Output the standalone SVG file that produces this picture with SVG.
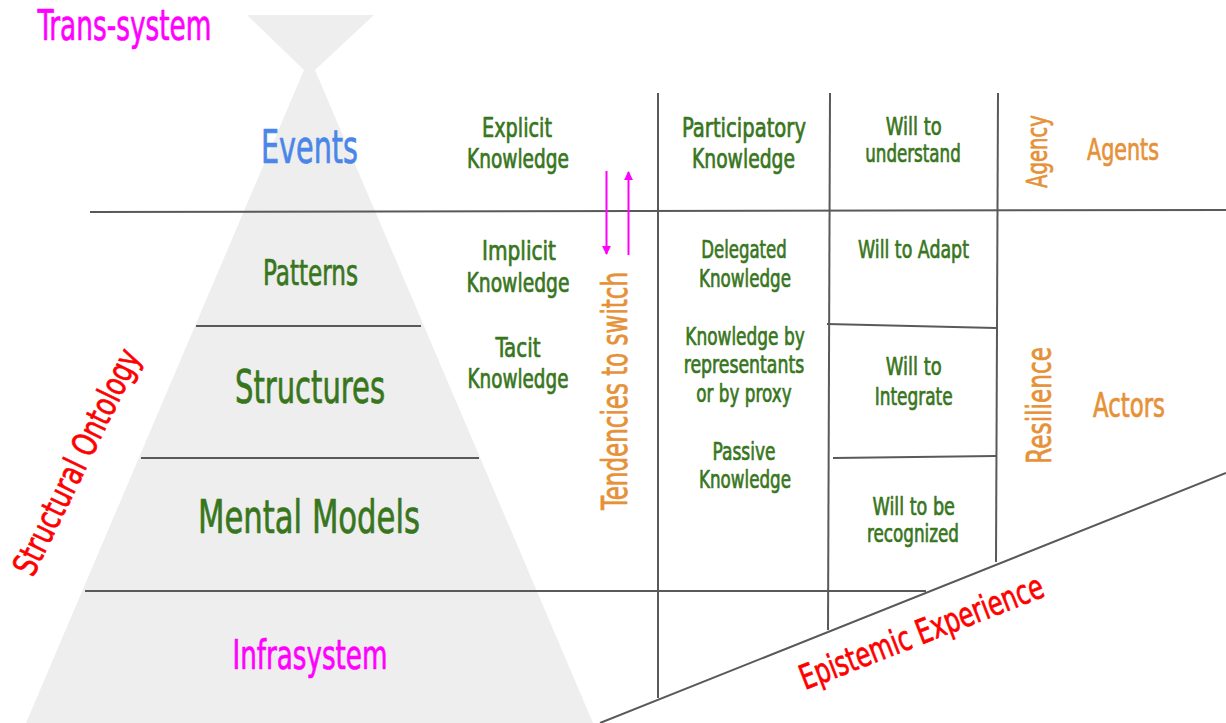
<svg xmlns="http://www.w3.org/2000/svg" width="1226" height="723" viewBox="0 0 1226 723">
<style>
text{font-family:"Liberation Sans Narrow","DejaVu Sans Condensed","Liberation Sans",sans-serif;stroke-width:0.7;stroke-linejoin:round;}
.g{fill:#38761d;stroke:#38761d;text-anchor:middle;}
.o{fill:#e69138;stroke:#e69138;}
.m{fill:#ff00ff;stroke:#ff00ff;}
.r{fill:#ff0000;stroke:#ff0000;}
.b{fill:#4a86e8;stroke:#4a86e8;}
.ln{stroke:#595959;stroke-width:2;fill:none;}
.ar{stroke:#ff00ff;stroke-width:2;fill:none;}
</style>
<defs>
<marker id="ah" viewBox="0 0 10 10" refX="9" refY="5" markerWidth="4.5" markerHeight="4.5" markerUnits="strokeWidth" orient="auto">
<path d="M0,0 L10,5 L0,10 z" fill="#ff00ff"/>
</marker>
</defs>
<rect width="1226" height="723" fill="#ffffff"/>
<g id="pyramid">
<polygon points="247,15 374,15 315,70 593,723 26,723 304,70" fill="#eeeeee"/>
</g>
<g id="connectors">
<line class="ln" x1="90" y1="212" x2="1226" y2="210"/>
<line class="ln" x1="196" y1="326" x2="421" y2="326"/>
<line class="ln" x1="141" y1="458" x2="479" y2="458"/>
<line class="ln" x1="85" y1="591" x2="926" y2="591"/>
<line class="ln" x1="658" y1="93" x2="658" y2="698"/>
<line class="ln" x1="830" y1="93" x2="828" y2="630"/>
<line class="ln" x1="998" y1="93" x2="996" y2="562"/>
<line class="ln" x1="827" y1="324" x2="996" y2="328"/>
<line class="ln" x1="833" y1="458" x2="996" y2="456"/>
<line class="ln" x1="600" y1="723" x2="1226" y2="473"/>
<line class="ar" x1="606.5" y1="171" x2="606.5" y2="254" marker-end="url(#ah)"/>
<line class="ar" x1="628.5" y1="255" x2="628.5" y2="172" marker-end="url(#ah)"/>
</g>
<g id="trans-system"><text class="m" x="37.5" y="40" font-size="42" textLength="174" lengthAdjust="spacingAndGlyphs">Trans-system</text></g>
<g id="events"><text class="b" x="309.5" y="163" font-size="46" text-anchor="middle" textLength="97" lengthAdjust="spacingAndGlyphs">Events</text></g>
<g id="patterns"><text class="g" x="310.5" y="285" font-size="35" textLength="95" lengthAdjust="spacingAndGlyphs">Patterns</text></g>
<g id="structures"><text class="g" x="310" y="402.5" font-size="46" textLength="150" lengthAdjust="spacingAndGlyphs">Structures</text></g>
<g id="mental-models"><text class="g" x="309" y="533" font-size="46" textLength="222" lengthAdjust="spacingAndGlyphs">Mental Models</text></g>
<g id="infrasystem"><text class="m" x="310" y="669" font-size="40" text-anchor="middle" textLength="155" lengthAdjust="spacingAndGlyphs">Infrasystem</text></g>
<g id="structural-ontology"><text class="r" transform="translate(33,578) rotate(-64)" x="0" y="0" font-size="34" textLength="247" lengthAdjust="spacingAndGlyphs">Structural Ontology</text></g>
<g id="explicit-knowledge">
<text class="g" x="517" y="137" font-size="27" textLength="70" lengthAdjust="spacingAndGlyphs">Explicit</text>
<text class="g" x="518" y="168" font-size="27" textLength="102" lengthAdjust="spacingAndGlyphs">Knowledge</text>
</g>
<g id="implicit-knowledge">
<text class="g" x="519" y="260" font-size="27" textLength="74" lengthAdjust="spacingAndGlyphs">Implicit</text>
<text class="g" x="518" y="292" font-size="27" textLength="103" lengthAdjust="spacingAndGlyphs">Knowledge</text>
</g>
<g id="tacit-knowledge">
<text class="g" x="518" y="357" font-size="27" textLength="45" lengthAdjust="spacingAndGlyphs">Tacit</text>
<text class="g" x="518" y="388" font-size="27" textLength="101" lengthAdjust="spacingAndGlyphs">Knowledge</text>
</g>
<g id="tendencies-to-switch"><text class="o" transform="translate(627,391) rotate(-90)" x="0" y="0" font-size="35" text-anchor="middle" textLength="238" lengthAdjust="spacingAndGlyphs">Tendencies to switch</text></g>
<g id="participatory-knowledge">
<text class="g" x="744" y="137" font-size="27" textLength="124" lengthAdjust="spacingAndGlyphs">Participatory</text>
<text class="g" x="743.5" y="168" font-size="27" textLength="103" lengthAdjust="spacingAndGlyphs">Knowledge</text>
</g>
<g id="delegated-knowledge">
<text class="g" x="744" y="258" font-size="25" textLength="85.5" lengthAdjust="spacingAndGlyphs">Delegated</text>
<text class="g" x="745" y="286.5" font-size="25" textLength="92" lengthAdjust="spacingAndGlyphs">Knowledge</text>
</g>
<g id="knowledge-by-proxy">
<text class="g" x="745" y="345" font-size="25" textLength="119.5" lengthAdjust="spacingAndGlyphs">Knowledge by</text>
<text class="g" x="744" y="373" font-size="25" textLength="120.5" lengthAdjust="spacingAndGlyphs">representants</text>
<text class="g" x="744" y="401.5" font-size="25" textLength="95.4" lengthAdjust="spacingAndGlyphs">or by proxy</text>
</g>
<g id="passive-knowledge">
<text class="g" x="744" y="460" font-size="25" textLength="63" lengthAdjust="spacingAndGlyphs">Passive</text>
<text class="g" x="745" y="488.3" font-size="25" textLength="92" lengthAdjust="spacingAndGlyphs">Knowledge</text>
</g>
<g id="will-to-understand">
<text class="g" x="913.7" y="135" font-size="25" textLength="56" lengthAdjust="spacingAndGlyphs">Will to</text>
<text class="g" x="913" y="161.7" font-size="25" textLength="95.5" lengthAdjust="spacingAndGlyphs">understand</text>
</g>
<g id="will-to-adapt"><text class="g" x="913.5" y="258" font-size="25" textLength="111" lengthAdjust="spacingAndGlyphs">Will to Adapt</text></g>
<g id="will-to-integrate">
<text class="g" x="913.7" y="375" font-size="25" textLength="56" lengthAdjust="spacingAndGlyphs">Will to</text>
<text class="g" x="913.7" y="405" font-size="25" textLength="78" lengthAdjust="spacingAndGlyphs">Integrate</text>
</g>
<g id="will-to-be-recognized">
<text class="g" x="913.7" y="515" font-size="25" textLength="82.5" lengthAdjust="spacingAndGlyphs">Will to be</text>
<text class="g" x="913" y="541.7" font-size="25" textLength="92" lengthAdjust="spacingAndGlyphs">recognized</text>
</g>
<g id="agency"><text class="o" transform="translate(1047,151.5) rotate(-90)" x="0" y="0" font-size="29" text-anchor="middle" textLength="73" lengthAdjust="spacingAndGlyphs">Agency</text></g>
<g id="resilience"><text class="o" transform="translate(1051,405.3) rotate(-90)" x="0" y="0" font-size="34" text-anchor="middle" textLength="117" lengthAdjust="spacingAndGlyphs">Resilience</text></g>
<g id="agents"><text class="o" x="1123" y="160" font-size="31" text-anchor="middle" textLength="72" lengthAdjust="spacingAndGlyphs">Agents</text></g>
<g id="actors"><text class="o" x="1129" y="416.7" font-size="33" text-anchor="middle" textLength="72" lengthAdjust="spacingAndGlyphs">Actors</text></g>
<g id="epistemic-experience"><text class="r" transform="translate(805,690) rotate(-21.3)" x="0" y="0" font-size="34" textLength="259" lengthAdjust="spacingAndGlyphs">Epistemic Experience</text></g>
</svg>
